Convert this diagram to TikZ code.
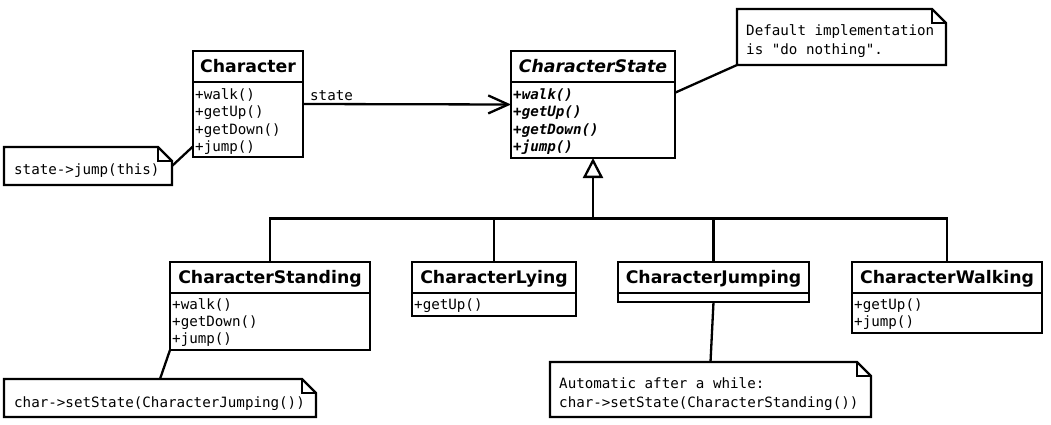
\documentclass[tikz,border=0pt]{standalone}
\usepackage{fontspec}
\setmainfont{DejaVu Sans}
\newfontfamily\clsfont{DejaVu Sans}[BoldFont={DejaVu Sans Bold},BoldItalicFont={DejaVu Sans Bold Oblique}]
\newfontfamily\monof{DejaVu Sans Mono}[BoldFont={DejaVu Sans Mono Bold},BoldItalicFont={DejaVu Sans Mono Bold Oblique}]
\usetikzlibrary{arrows.meta,calc}
\tikzset{
  cls/.style={draw, line width=2.3pt, inner sep=0pt, outer sep=0pt, anchor=north west, fill=white},
  ctitle/.style={font=\clsfont\fontsize{17.3}{20}\selectfont\bfseries, anchor=base, inner sep=0pt},
  mem/.style={font=\monof\fontsize{14.2}{17.3}\selectfont, anchor=base west, align=left, inner sep=0pt},
  notetext/.style={font=\monof\fontsize{14.2}{19}\selectfont, anchor=base west, align=left, inner sep=0pt},
  noteb/.style={inner sep=0pt, outer sep=0pt, anchor=north west},
  conn/.style={line width=2.3pt},
  sep/.style={line width=2.3pt},
}
\newcommand\drawnote[1]{%
  \draw[line width=2.3pt, fill=white] (#1.north west) -- ($(#1.north east)+(-14,0)$) -- ($(#1.north east)+(0,14)$) -- (#1.south east) -- (#1.south west) -- cycle;
  \draw[line width=1.2pt] ($(#1.north east)+(-14,0)$) -- ($(#1.north east)+(-14,14)$) -- ($(#1.north east)+(0,14)$);
}
\begin{document}
\begin{tikzpicture}[x=1pt,y=-1pt]
\useasboundingbox (0,0) rectangle (1051,425);

% classes
\node[cls, minimum width=110pt, minimum height=106pt] (char) at (193,51) {};
\draw[sep] (193,82) -- (303,82);
\node[ctitle] (chart) at (248,72.8) {Character};
\node[mem] (charm) at (195,151.4) {+walk()\\+getUp()\\+getDown()\\+jump()};

\node[cls, minimum width=164pt, minimum height=107pt] (cs) at (511,51) {};
\draw[sep] (511,82) -- (675,82);
\node[ctitle, font=\clsfont\fontsize{17.3}{20}\selectfont\bfseries\itshape] (cst) at (593,72.8) {CharacterState};
\node[mem, font=\monof\fontsize{14.2}{17.3}\selectfont\bfseries\itshape] (csm) at (513,151.4) {+walk()\\+getUp()\\+getDown()\\+jump()};

\node[cls, minimum width=200pt, minimum height=88pt] (cstand) at (170,262) {};
\draw[sep] (170,293) -- (370,293);
\node[ctitle] (cstandt) at (270,283.8) {CharacterStanding};
\node[mem] (cstandm) at (172,343.6) {+walk()\\+getDown()\\+jump()};

\node[cls, minimum width=164pt, minimum height=54pt] (cly) at (412,262) {};
\draw[sep] (412,293) -- (576,293);
\node[ctitle] (clyt) at (494,283.8) {CharacterLying};
\node[mem] (clym) at (414,309) {+getUp()};

\node[cls, minimum width=191pt, minimum height=40pt] (cj) at (618,262) {};
\draw[sep] (618,293) -- (809,293);
\node[ctitle] (cjt) at (713.5,283.8) {CharacterJumping};

\node[cls, minimum width=190pt, minimum height=71pt] (cw) at (852,262) {};
\draw[sep] (852,293) -- (1042,293);
\node[ctitle] (cwt) at (947,283.8) {CharacterWalking};
\node[mem] (cwm) at (854,326.3) {+getUp()\\+jump()};

% notes
\node[noteb, minimum width=168pt, minimum height=38pt] (n1) at (4,147) {};
\node[noteb, minimum width=209pt, minimum height=56pt] (n2) at (737,9) {};
\node[noteb, minimum width=312pt, minimum height=38pt] (n3) at (4,379) {};
\node[noteb, minimum width=321pt, minimum height=55pt] (n4) at (550,362) {};

% connectors
\draw[conn, -{Straight Barb[length=20pt,width=18pt]}] (char.east) -- (cs.west)
  node[pos=0, anchor=base west, xshift=6pt, yshift=3pt, font=\monof\fontsize{14.2}{17}\selectfont, inner sep=0pt] (lbl) {state};
\draw[conn] ($(cs.north east)!0.39!(cs.south east)$) -- (n2.south west);
\draw[conn] (n1.east) -- ($(char.north west)!0.9!(char.south west)$);
\draw[conn] (cstand.south west) -- (n3.north);
\draw[conn] (cj.south) -- (n4.north);

\coordinate (bus) at (593,218.5);
\draw[conn, -{Triangle[open,length=20pt,width=20pt]}] (bus) -- (cs.south);
\draw[conn] (cstand.north) -- (cstand.north |- bus) -- (cw.north |- bus) -- (cw.north);
\draw[conn] (cly.north) -- (cly.north |- bus);
\draw[conn] (cj.north) -- (cj.north |- bus);

\drawnote{n1}
\drawnote{n2}
\drawnote{n3}
\drawnote{n4}
\node[notetext] (n1t) at (14,174) {state->jump(this)};
\node[notetext] (n2t) at (746,55) {Default implementation\\is "do nothing".};
\node[notetext] (n3t) at (14,407) {char->setState(CharacterJumping())};
\node[notetext] (n4t) at (559,407) {Automatic after a while:\\char->setState(CharacterStanding())};
\end{tikzpicture}
\end{document}
